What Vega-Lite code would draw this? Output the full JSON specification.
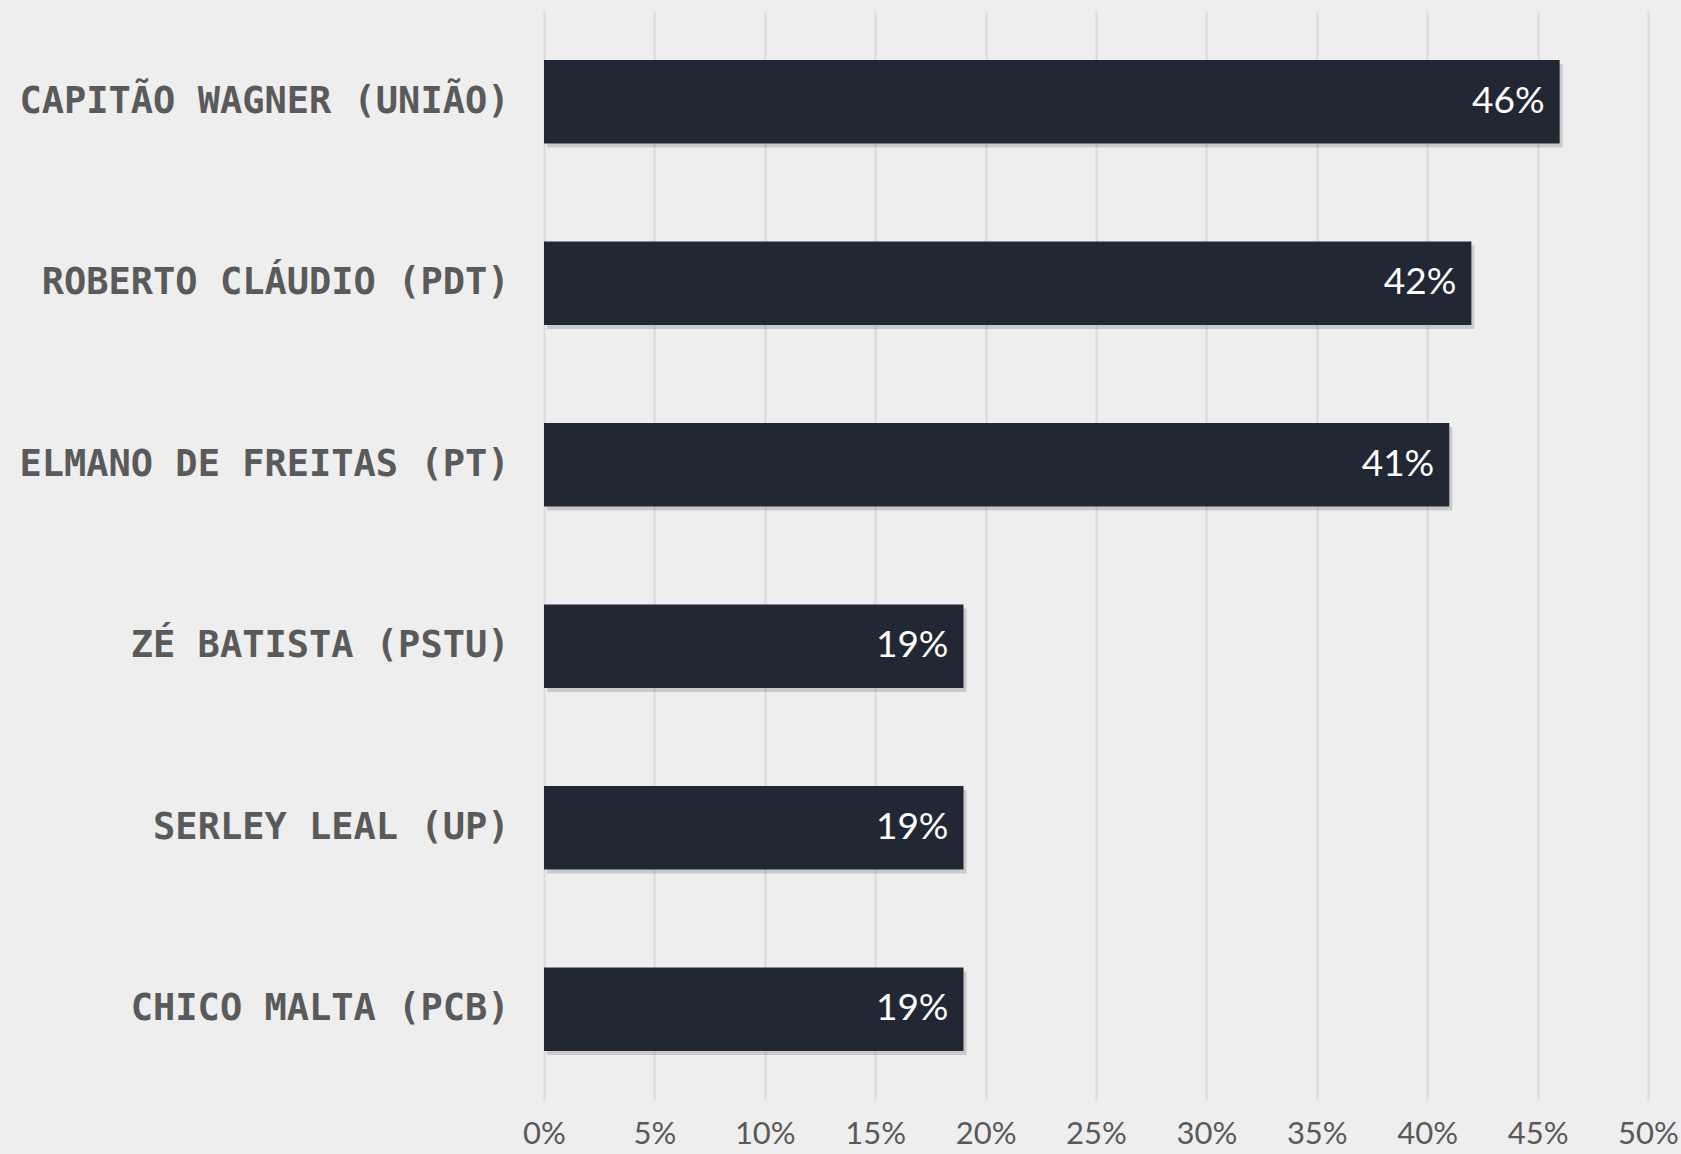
{
  "$schema": "https://vega.github.io/schema/vega-lite/v6.json",
  "autosize": "none",
  "width": 1104,
  "height": 1089,
  "padding": {"left": 544, "top": 11, "right": 33, "bottom": 54},
  "background": "#eeeeee",
  "data": {
    "values": [
      {"candidato": "CAPITÃO WAGNER (UNIÃO)", "v": 0.46},
      {"candidato": "ROBERTO CLÁUDIO (PDT)", "v": 0.42},
      {"candidato": "ELMANO DE FREITAS (PT)", "v": 0.41},
      {"candidato": "ZÉ BATISTA (PSTU)", "v": 0.19},
      {"candidato": "SERLEY LEAL (UP)", "v": 0.19},
      {"candidato": "CHICO MALTA (PCB)", "v": 0.19}
    ]
  },
  "encoding": {
    "y": {
      "field": "candidato",
      "type": "nominal",
      "sort": null,
      "scale": {"paddingInner": 0.54, "paddingOuter": 0.27},
      "axis": {
        "title": null,
        "domain": false,
        "ticks": false,
        "labelFont": "DejaVu Sans Mono",
        "labelFontWeight": "bold",
        "labelFontSize": 37,
        "labelColor": "#5a5a5a",
        "labelPadding": 35,
        "labelLimit": 0
      }
    },
    "x": {
      "field": "v",
      "type": "quantitative",
      "scale": {"domain": [0, 0.5], "nice": false},
      "axis": {
        "title": null,
        "values": [0, 0.05, 0.1, 0.15, 0.2, 0.25, 0.3, 0.35, 0.4, 0.45, 0.5],
        "format": ".0%",
        "domain": false,
        "ticks": false,
        "grid": true,
        "gridColor": "#d9d9d9",
        "gridWidth": 2,
        "labelFont": "Lato",
        "labelFontSize": 31,
        "labelColor": "#595959",
        "labelPadding": 19,
        "labelFlush": false,
        "labelOverlap": false
      }
    }
  },
  "layer": [
    {
      "mark": {"type": "bar", "color": "#000000", "opacity": 0.15, "xOffset": 3, "yOffset": 4, "x2Offset": 3, "y2Offset": 4},
      "encoding": {}
    },
    {
      "mark": {"type": "bar", "color": "#222833"},
      "encoding": {}
    },
    {
      "mark": {"type": "text", "align": "right", "baseline": "middle", "dx": -15, "color": "#ffffff", "font": "Lato", "fontSize": 37},
      "encoding": {"text": {"field": "v", "type": "quantitative", "format": ".0%"}}
    }
  ],
  "config": {"view": {"stroke": null}}
}
